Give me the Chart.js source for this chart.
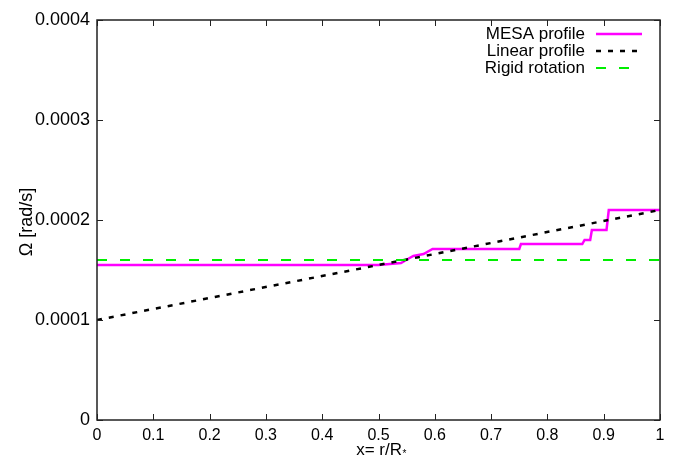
<!DOCTYPE html>
<html>
<head>
<meta charset="utf-8">
<script src="https://cdn.jsdelivr.net/npm/chart.js@4/dist/chart.umd.min.js"></script>
<style>
  html, body { margin: 0; padding: 0; background: #fff; }
  #wrap { width: 678px; height: 459px; }
</style>
</head>
<body>
<div id="wrap"><canvas id="omegaChart" width="678" height="459"></canvas></div>
<script>
// values
const mesaX = [0, 0.50, 0.54, 0.552, 0.562, 0.58, 0.596, 0.75, 0.753, 0.862, 0.866, 0.876, 0.879, 0.905, 0.909, 1.0];
const mesaY = [0.000155, 0.000155, 0.000157, 0.000161, 0.000164, 0.000166, 0.000171, 0.000171, 0.000176, 0.000176, 0.00018, 0.00018, 0.00019, 0.00019, 0.00021, 0.00021];

const linearX = [0, 1];
const linearY = [0.0001, 0.00021];

const rigidX = [0, 1];
const rigidY = [0.00016, 0.00016];

const seriesNames = ["MESA profile", "Linear profile", "Rigid rotation"];
const xTitle = "x= r/R";
const xTitleSub = "*";
const yTitle = "\u03A9 [rad/s]";

function toPoints(xs, ys) {
  return xs.map((x, i) => ({ x: x, y: ys[i] }));
}

const FONT = "'Liberation Sans', Arial, sans-serif";

// gnuplot-like frame, inward ticks, axis titles and right-side legend
const framePlugin = {
  id: "frame",
  afterDraw(chart) {
    const ctx = chart.ctx;
    const a = chart.chartArea;
    const xs = chart.scales.x;
    const ys = chart.scales.y;
    ctx.save();
    ctx.strokeStyle = "#222";
    ctx.lineWidth = 1.5;
    ctx.setLineDash([]);
    ctx.strokeRect(a.left, a.top, a.right - a.left, a.bottom - a.top);

    ctx.lineWidth = 1;
    const len = 6;
    ctx.beginPath();
    xs.ticks.forEach((t) => {
      const px = Math.round(xs.getPixelForValue(t.value)) + 0.5;
      ctx.moveTo(px, a.bottom); ctx.lineTo(px, a.bottom - len);
      ctx.moveTo(px, a.top); ctx.lineTo(px, a.top + len);
    });
    ys.ticks.forEach((t) => {
      const py = Math.round(ys.getPixelForValue(t.value)) + 0.5;
      ctx.moveTo(a.left, py); ctx.lineTo(a.left + len, py);
      ctx.moveTo(a.right, py); ctx.lineTo(a.right - len, py);
    });
    ctx.stroke();

    // axis titles
    ctx.fillStyle = "#000";
    ctx.textBaseline = "middle";
    ctx.font = "17px " + FONT;
    const w1 = ctx.measureText(xTitle).width;
    ctx.font = "10px " + FONT;
    const w2 = ctx.measureText(xTitleSub).width;
    const x0 = 381 - (w1 + w2) / 2;
    ctx.textAlign = "left";
    ctx.font = "17px " + FONT;
    ctx.fillText(xTitle, x0, 450);
    ctx.font = "10px " + FONT;
    ctx.fillText(xTitleSub, x0 + w1 + 0.5, 454);

    ctx.save();
    ctx.translate(27, 222);
    ctx.rotate(-Math.PI / 2);
    ctx.textAlign = "center";
    ctx.font = "18px " + FONT;
    ctx.fillText(yTitle, 0, 0);
    ctx.restore();

    // legend: text right aligned, sample line to the right
    ctx.font = "17px " + FONT;
    ctx.textAlign = "right";
    ctx.textBaseline = "middle";
    chart.data.datasets.forEach((ds, i) => {
      const y = 34 + i * 17;
      ctx.fillStyle = "#000";
      ctx.fillText(ds.label, 585, y);
      ctx.strokeStyle = ds.borderColor;
      ctx.lineWidth = ds.borderWidth;
      ctx.setLineDash(ds.borderDash || []);
      ctx.beginPath();
      ctx.moveTo(596, y);
      ctx.lineTo(642, y);
      ctx.stroke();
    });
    ctx.restore();
  }
};

new Chart(document.getElementById("omegaChart").getContext("2d"), {
  type: "line",
  data: {
    datasets: [
      {
        label: seriesNames[0],
        data: toPoints(mesaX, mesaY),
        borderColor: "#ff00ff",
        borderWidth: 2.5,
        pointRadius: 0,
        tension: 0,
        order: 3
      },
      {
        label: seriesNames[1],
        data: toPoints(linearX, linearY),
        borderColor: "#000000",
        borderWidth: 2.5,
        borderDash: [5, 7],
        pointRadius: 0,
        tension: 0,
        order: 2
      },
      {
        label: seriesNames[2],
        data: toPoints(rigidX, rigidY),
        borderColor: "#00ee00",
        borderWidth: 2,
        borderDash: [10, 13],
        pointRadius: 0,
        tension: 0,
        order: 1
      }
    ]
  },
  options: {
    responsive: false,
    animation: false,
    layout: { padding: { top: 20, right: 18, bottom: 0, left: 0 } },
    plugins: {
      legend: { display: false },
      tooltip: { enabled: false }
    },
    scales: {
      x: {
        type: "linear",
        min: 0,
        max: 1,
        grid: { display: false, drawTicks: false },
        border: { display: false },
        ticks: {
          stepSize: 0.1,
          padding: 6,
          maxRotation: 0,
          color: "#000",
          font: { family: FONT, size: 16 },
          callback: (v) => String(Math.round(v * 10) / 10)
        },
        afterFit: (scale) => { scale.height = 39; }
      },
      y: {
        min: 0,
        max: 0.0004,
        grid: { display: false, drawTicks: false },
        border: { display: false },
        ticks: {
          stepSize: 0.0001,
          padding: 7,
          color: "#000",
          font: { family: FONT, size: 18 },
          callback: (v) => (Math.abs(v) < 1e-12 ? "0" : v.toFixed(4))
        },
        afterFit: (scale) => { scale.width = 97; }
      }
    }
  },
  plugins: [framePlugin]
});
</script>
</body>
</html>
